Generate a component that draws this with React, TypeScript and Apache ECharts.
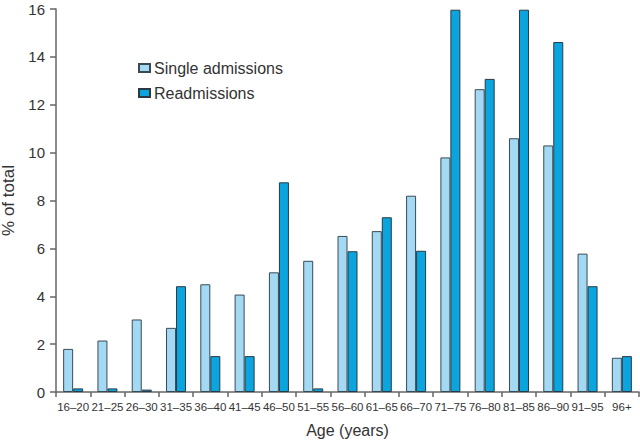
import React, { useEffect, useRef } from "react";
import * as echarts from "echarts";

const categories = ["16–20","21–25","26–30","31–35","36–40","41–45","46–50","51–55","56–60","61–65","66–70","71–75","76–80","81–85","86–90","91–95","96+"];
const singleAdmissions = [1.8,2.15,3.03,2.68,4.5,4.07,5.0,5.48,6.52,6.72,8.2,9.8,12.65,10.6,10.3,5.78,1.43];
const readmissions = [0.15,0.15,0.1,4.42,1.5,1.5,8.76,0.15,5.88,7.3,5.9,15.97,13.08,15.97,14.62,4.42,1.5];
const yTicks = [0, 2, 4, 6, 8, 10, 12, 14, 16];

export default function App() {
  const ref = useRef<HTMLDivElement>(null);
  useEffect(() => {
    if (!ref.current) return;
    const chart = echarts.init(ref.current, undefined, { renderer: "svg" });
    const font = "Liberation Sans, Arial, sans-serif";
    chart.setOption({
      animation: false,
      textStyle: { fontFamily: font },
      grid: { left: 56, right: 1, top: 9, bottom: 48, containLabel: false, outerBoundsMode: "none" },
      legend: {
        orient: "vertical",
        left: 133,
        top: 55,
        itemWidth: 11,
        itemHeight: 8,
        itemGap: 9,
        icon: "rect",
        textStyle: { fontSize: 16, color: "#333", fontFamily: font, padding: [0, 0, 0, -1] },
        data: ["Single admissions", "Readmissions"],
      },
      xAxis: {
        type: "category",
        data: categories,
        name: "Age (years)",
        nameLocation: "middle",
        nameGap: 30,
        nameTextStyle: { fontSize: 16, color: "#333", fontFamily: font },
        axisLine: { lineStyle: { color: "#666", width: 1.5 } },
        axisTick: { show: true, alignWithLabel: false, length: 5, lineStyle: { color: "#666", width: 1.5 } },
        axisLabel: { interval: 0, fontSize: 11.5, color: "#333", margin: 9, fontFamily: font },
      },
      yAxis: {
        type: "value",
        min: yTicks[0],
        max: yTicks[yTicks.length - 1],
        interval: 2,
        name: "% of total",
        nameLocation: "middle",
        nameGap: 33,
        nameRotate: 90,
        nameTextStyle: { fontSize: 17, color: "#333", fontFamily: font },
        splitLine: { show: false },
        axisLine: { show: true, lineStyle: { color: "#666", width: 1.5 } },
        axisTick: { show: true, length: 6, lineStyle: { color: "#666", width: 1.5 } },
        axisLabel: { fontSize: 15, color: "#333", margin: 11, fontFamily: font },
      },
      series: [
        {
          name: "Single admissions",
          type: "bar",
          data: singleAdmissions,
          barWidth: 10,
          barGap: "0%",
          itemStyle: { color: "#a3d9f3", borderColor: "#3a4a55", borderWidth: 1 },
        },
        {
          name: "Readmissions",
          type: "bar",
          data: readmissions,
          barWidth: 10,
          barGap: "0%",
          itemStyle: { color: "#0aa5de", borderColor: "#2a3a45", borderWidth: 1 },
        },
      ],
    });
    return () => chart.dispose();
  }, []);
  return <div ref={ref} style={{ width: 640, height: 440, position: "absolute", left: 0, top: 0 }} />;
}
